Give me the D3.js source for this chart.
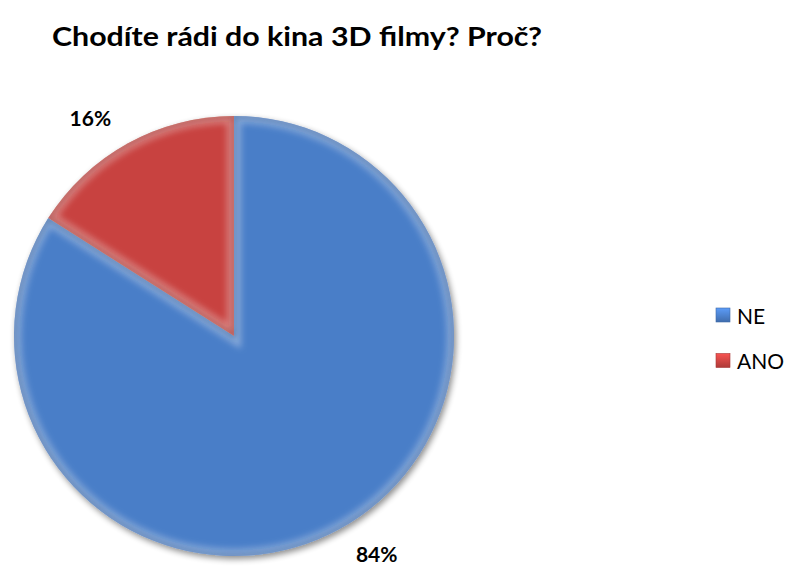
<!DOCTYPE html>
<html>
<head>
<meta charset="utf-8">
<script src="https://cdn.jsdelivr.net/npm/d3@7"></script>
<style>
  html, body { margin: 0; padding: 0; background: #fff; }
  svg { display: block; font-family: Lato, "Open Sans", sans-serif; }
</style>
</head>
<body>
<svg id="chart" width="789" height="566"></svg>
<script>
// Survey answers: share of respondents per answer (percent)
const categories = ["NE", "ANO"];
const values = [84, 16];
const colors = ["#4a7ec8", "#c84341"];
const title = "Chodíte rádi do kina 3D filmy? Proč?";

const svg = d3.select("#chart");
const defs = svg.append("defs");

// soft drop shadow under the pie
const shadow = defs.append("filter").attr("id", "shadow")
  .attr("x", "-10%").attr("y", "-10%").attr("width", "120%").attr("height", "120%");
shadow.append("feGaussianBlur").attr("in", "SourceAlpha").attr("stdDeviation", 3).attr("result", "b");
shadow.append("feOffset").attr("in", "b").attr("dx", 2).attr("dy", 3).attr("result", "o");
shadow.append("feComponentTransfer").attr("in", "o").attr("result", "s")
  .append("feFuncA").attr("type", "linear").attr("slope", 0.45);
const m = shadow.append("feMerge");
m.append("feMergeNode").attr("in", "s");
m.append("feMergeNode").attr("in", "SourceGraphic");

const blur = defs.append("filter").attr("id", "soft")
  .attr("x", "-20%").attr("y", "-20%").attr("width", "140%").attr("height", "140%");
blur.append("feGaussianBlur").attr("stdDeviation", 3);

// title
svg.append("text")
  .attr("x", 52).attr("y", 46)
  .attr("font-size", 27).attr("font-weight", "bold").attr("fill", "#000")
  .attr("textLength", 490).attr("lengthAdjust", "spacingAndGlyphs")
  .text(title);

const cx = 234, cy = 336, r = 220;
const pie = d3.pie().sort(null).value(d => d)(values);
const arc = d3.arc().innerRadius(0).outerRadius(r);

const g = svg.append("g").attr("transform", `translate(${cx},${cy})`);
const slices = g.append("g").attr("filter", "url(#shadow)");

pie.forEach((p, i) => {
  const id = "clip" + i;
  defs.append("clipPath").attr("id", id)
    .append("path").attr("d", arc(p)).attr("transform", `translate(${cx},${cy})`);
  slices.append("path").attr("d", arc(p)).attr("fill", colors[i]);
});

// bevel: light band inside each slice edge, dark rim at the outside
pie.forEach((p, i) => {
  const bg = svg.append("g").attr("clip-path", `url(#clip${i})`)
    .append("g").attr("transform", `translate(${cx},${cy})`);
  bg.append("path").attr("d", arc(p))
    .attr("fill", "none").attr("stroke", "#fff").attr("stroke-opacity", 0.35)
    .attr("stroke-width", 14).attr("filter", "url(#soft)");
  bg.append("path").attr("d", arc(p))
    .attr("fill", "none").attr("stroke", d3.color(colors[i]).darker(1.2)).attr("stroke-opacity", 0.7)
    .attr("stroke-width", 3).attr("filter", "url(#soft)");
});

// percentage labels outside the slices
const total = d3.sum(values);
const labelArc = d3.arc().innerRadius(r * 1.12).outerRadius(r * 1.12);
const labelNudge = [[24, 2], [-25, -3]];
pie.forEach((p, i) => {
  const [x, y] = labelArc.centroid(p);
  g.append("text")
    .attr("x", x + labelNudge[i][0]).attr("y", y + labelNudge[i][1])
    .attr("text-anchor", "middle").attr("dominant-baseline", "central")
    .attr("font-size", 21).attr("font-weight", "bold").attr("fill", "#000")
    .text(Math.round(values[i] / total * 100) + "%");
});

// legend
const legend = svg.append("g").attr("transform", "translate(716,308)");
categories.forEach((c, i) => {
  const row = legend.append("g").attr("transform", `translate(0,${i * 45.5})`);
  const col = d3.color(colors[i]);
  const lg = defs.append("linearGradient").attr("id", "lg" + i)
    .attr("x1", 0).attr("y1", 0).attr("x2", 0).attr("y2", 1);
  lg.append("stop").attr("offset", 0).attr("stop-color", col.brighter(0.6));
  lg.append("stop").attr("offset", 1).attr("stop-color", col.darker(0.4));
  row.append("rect").attr("width", 14).attr("height", 14).attr("fill", `url(#lg${i})`)
    .attr("stroke", col.darker(0.5)).attr("stroke-width", 0.6);
  row.append("text").attr("x", 21).attr("y", 7)
    .attr("dominant-baseline", "central").attr("font-size", 21).attr("fill", "#000")
    .text(c);
});
</script>
</body>
</html>
